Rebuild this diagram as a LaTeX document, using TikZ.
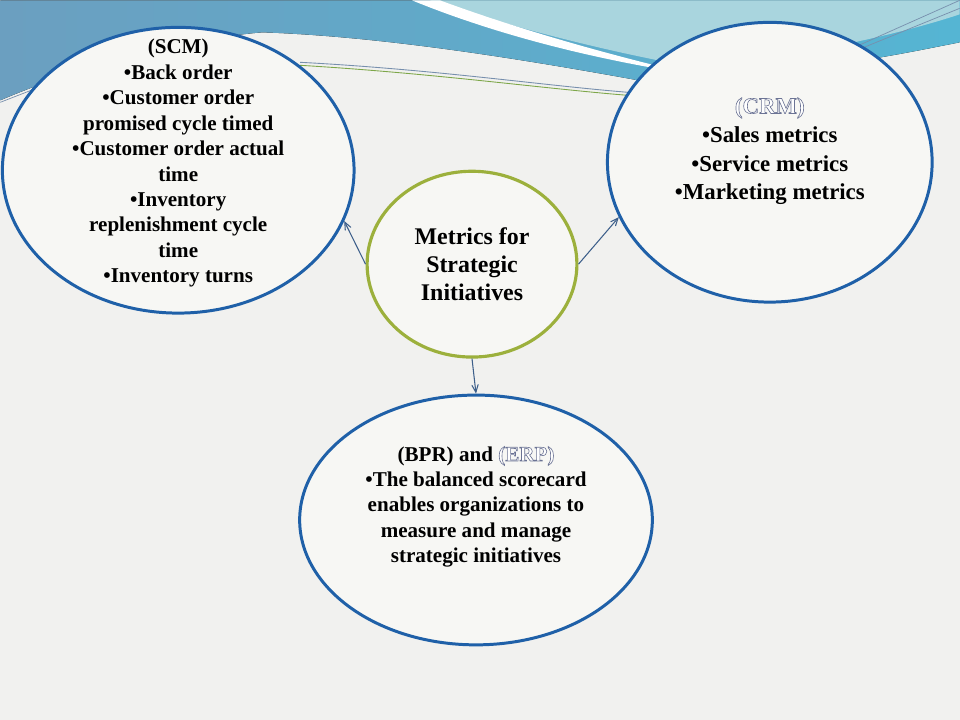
\documentclass[tikz,border=0pt]{standalone}
\usepackage{fontspec}
\setmainfont{Liberation Serif}
\usepackage{tikz}
\usetikzlibrary{shapes,arrows}
\definecolor{paper}{HTML}{F1F1EF}
\definecolor{bubblefill}{HTML}{F7F7F4}
\definecolor{ringblue}{HTML}{1F60A8}
\definecolor{ringgreen}{HTML}{9CB03C}
\definecolor{arrowblue}{HTML}{3D5F8A}
\definecolor{bandL}{HTML}{6B9FC0}
\definecolor{bandR}{HTML}{55B5D3}
\definecolor{bandlight}{HTML}{A9D5DE}
\tikzstyle{bubble} = [shape=ellipse, draw=ringblue, line width=1.7pt,
		fill=bubblefill, inner sep=0pt, anchor=center]
\tikzstyle{hubbox} = [shape=ellipse, draw=ringgreen, line width=1.8pt,
		fill=bubblefill, inner sep=0pt, anchor=center,
		minimum width=4.2cm, minimum height=3.72cm]
\tikzstyle{txt} = [align=center, inner sep=0pt, anchor=center,
		font=\bfseries\fontsize{12}{14.5}\selectfont]
\tikzstyle{bigtxt} = [align=center, inner sep=0pt, anchor=center,
		font=\bfseries\fontsize{13}{16.4}\selectfont]
\tikzstyle{link} = [>=angle 45, ->, draw=arrowblue, line width=0.6pt]
\newcommand{\hollow}[1]{{\color{white}\special{pdf:literal direct 2 Tr 0.35 w 0.42 0.45 0.58 RG}#1\special{pdf:literal direct 0 Tr}}}

\begin{document}
\begin{tikzpicture}[x=0.02cm, y=-0.02cm]
	% background and top band
	\fill[paper] (0,0) rectangle (960,720);
	\fill[left color=bandL, right color=bandR] (0,0) -- (960,0) -- (960,42)
		.. controls (920,50) and (890,56) .. (850,62) -- (660,84)
		.. controls (520,58) and (380,36) .. (262,32)
		.. controls (170,40) and (70,70) .. (0,100) -- cycle;
	\fill[bandlight] (430,0) -- (960,0) -- (960,14)
		.. controls (900,34) and (800,56) .. (700,68)
		.. controls (600,50) and (510,26) .. (430,0) -- cycle;
	\fill[white] (412,0) .. controls (500,36) and (600,60) .. (692,74)
		.. controls (590,50) and (505,24) .. (440,0) -- cycle;
	\draw[arrowblue!70, line width=0.5pt] (300,62) .. controls (450,70) and (560,88) .. (655,94);
	\draw[ringgreen!80!teal, line width=0.5pt] (300,65) .. controls (450,74) and (560,91) .. (655,97);
	\draw[arrowblue!70, line width=0.4pt] (848,50) -- (960,0);
	\draw[arrowblue!70, line width=0.4pt] (852,52) -- (960,8);
	\draw[arrowblue!70, line width=0.4pt] (0,102) -- (36,88);

	% the four bubbles
	\node[bubble, minimum width=7.04cm, minimum height=5.72cm] (scm) at (178,170) {};
	\node[bubble, minimum width=6.5cm, minimum height=5.6cm] (crm) at (770,162) {};
	\node[hubbox] (hub) at (472,264) {};
	\node[bubble, minimum width=7.06cm, minimum height=5cm] (bpr) at (476,520) {};

	\node[txt] (scm-text) at (178,163) {(SCM)\\ •Back order\\ •Customer order\\
		promised cycle timed\\ •Customer order actual\\ time\\ •Inventory\\
		replenishment cycle\\ time\\ •Inventory turns};
	\node[bigtxt] (crm-text) at (770,151) {\hollow{(CRM)}\\ •Sales metrics\\
		•Service metrics\\ •Marketing metrics};
	\node[bigtxt, font=\bfseries\fontsize{13.6}{16.2}\selectfont] (hub-text) at (472,264)
		{Metrics for\\ Strategic\\ Initiatives};
	\node[txt] (bpr-text) at (476,507) {(BPR) and \hollow{(ERP)}\\
		•The balanced scorecard\\ enables organizations to\\
		measure and manage\\ strategic initiatives};

	\draw[link] (hub.west) -- (scm.-17);
	\draw[link] (hub.east) -- (crm.200);
	\draw[link] (hub.south) -- (bpr.north);
\end{tikzpicture}
\end{document}
